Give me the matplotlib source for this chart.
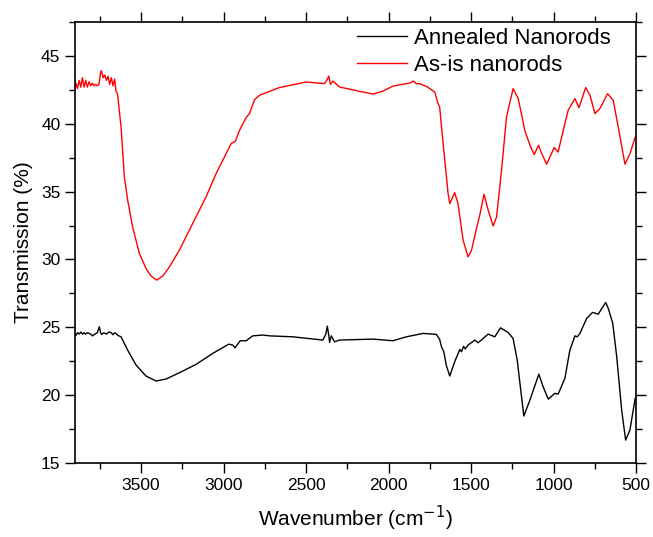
import numpy as np
import matplotlib
matplotlib.use("Agg")
import matplotlib.pyplot as plt
from matplotlib.ticker import MultipleLocator


# ===============================
#  Data
# ===============================

as_is_wavenumber = [
    3905, 3895, 3885, 3875, 3865, 3855, 3845, 3835, 3825, 3815, 3805, 3795,
    3785, 3775, 3765, 3755, 3745, 3740, 3730, 3720, 3710, 3700, 3690, 3680,
    3670, 3660, 3652, 3642, 3632, 3621, 3601, 3581, 3551, 3510, 3470, 3439,
    3405, 3369, 3328, 3268, 3187, 3106, 3045, 2984, 2954, 2928, 2903, 2863,
    2843, 2812, 2782, 2721, 2661, 2499, 2388, 2370, 2362, 2355, 2351, 2337,
    2297, 2175, 2094, 2034, 1973, 1872, 1850, 1830, 1811, 1790, 1770, 1750,
    1720, 1700, 1690, 1679, 1659, 1639, 1629, 1599, 1579, 1548, 1518, 1497,
    1467, 1447, 1421, 1396, 1366, 1345, 1315, 1285, 1245, 1214, 1174, 1143,
    1117, 1091, 1072, 1042, 1012, 996, 972, 941, 911, 870, 846, 805, 779,
    749, 719, 672, 638, 608, 567, 536, 506, 500,
]
as_is_transmission = [
    42.5, 43.0, 42.6, 43.2, 42.7, 43.4, 42.7, 43.2, 42.7, 43.1, 42.8, 43.0,
    42.8, 42.9, 42.8, 42.9, 43.8, 43.9, 43.4, 43.6, 43.2, 43.5, 42.9, 43.4,
    42.8, 43.3, 42.4, 42.2, 41.0, 39.77, 36.08, 34.37, 32.4, 30.44, 29.34, 28.77,
    28.48, 28.77, 29.45, 30.68, 32.65, 34.61, 36.33, 37.81, 38.54, 38.71, 39.52, 40.46,
    40.75, 41.78, 42.1, 42.39, 42.67, 43.08, 42.96, 43.3, 43.52, 43.1, 42.9, 43.15,
    42.71, 42.39, 42.19, 42.41, 42.78, 43.0, 43.15, 42.95, 42.96, 42.85, 42.75, 42.59,
    42.34, 41.49, 41.24, 39.77, 37.31, 34.86, 34.12, 34.93, 34.12, 31.42, 30.19, 30.68,
    32.28, 33.26, 34.81, 33.63, 32.47, 33.14, 36.58, 40.5, 42.59, 41.86, 39.52, 38.42,
    37.73, 38.42, 37.81, 37.02, 37.81, 38.25, 37.92, 39.52, 41.0, 41.86, 41.19, 42.67, 42.1,
    40.75, 41.12, 42.22, 41.73, 39.77, 37.02, 37.81, 38.99, 39.1,
]

annealed_wavenumber = [
    3905, 3895, 3885, 3875, 3865, 3854, 3845, 3835, 3825, 3815, 3805, 3794,
    3780, 3765, 3753, 3745, 3739, 3725, 3710, 3695, 3682, 3670, 3660, 3652,
    3640, 3621, 3581, 3530, 3470, 3409, 3348, 3268, 3166, 3065, 2968, 2944,
    2930, 2899, 2863, 2823, 2762, 2721, 2580, 2398, 2380, 2371, 2362, 2357,
    2347, 2327, 2297, 2094, 1973, 1892, 1791, 1710, 1690, 1679, 1665, 1650,
    1629, 1599, 1568, 1558, 1545, 1535, 1518, 1477, 1457, 1396, 1356, 1321,
    1275, 1245, 1220, 1180, 1143, 1089, 1063, 1032, 992, 972, 931, 901,
    870, 856, 840, 799, 763, 729, 684, 668, 641, 617, 587, 563, 537, 506, 500,
]
annealed_transmission = [
    24.55, 24.4, 24.6, 24.5, 24.65, 24.5, 24.6, 24.5, 24.6, 24.55, 24.5, 24.37,
    24.5, 24.6, 25.04, 24.6, 24.48, 24.6, 24.5, 24.65, 24.62, 24.45, 24.6, 24.55,
    24.4, 24.3, 23.32, 22.22, 21.41, 21.04, 21.19, 21.65, 22.27, 23.08, 23.76, 23.69,
    23.49, 24.01, 24.01, 24.37, 24.43, 24.37, 24.3, 24.06, 24.5, 25.09, 24.4, 23.89,
    24.37, 23.93, 24.06, 24.13, 24.01, 24.3, 24.55, 24.48, 24.11, 23.56, 23.2, 22.2,
    21.41, 22.46, 23.37, 23.2, 23.6, 23.4, 23.69, 24.06, 23.86, 24.5, 24.3, 24.96,
    24.62, 24.18, 22.58, 18.46, 19.64, 21.55, 20.62, 19.71, 20.13, 20.08, 21.24, 23.32,
    24.37, 24.3, 24.55, 25.66, 26.1, 25.97, 26.83, 26.39, 25.29, 22.83, 18.9, 16.69, 17.43, 19.7, 19.9,
]


# ===============================
#  Plot
# ===============================

def make_plot() -> None:
    plt.rcParams["font.family"] = ["Liberation Sans", "DejaVu Sans"]

    fig = plt.figure(figsize=(6.53, 5.37), dpi=100)
    ax = fig.add_axes([0.1149, 0.1378, 0.8591, 0.8212])

    ax.plot(annealed_wavenumber, annealed_transmission, color="black",
            linewidth=1.0, label="Annealed Nanorods")
    ax.plot(as_is_wavenumber, as_is_transmission, color="red",
            linewidth=1.0, label="As-is nanorods")

    ax.set_xlim(3900, 500)
    ax.set_ylim(15, 47.5)

    ax.xaxis.set_major_locator(MultipleLocator(500))
    ax.xaxis.set_minor_locator(MultipleLocator(250))
    ax.yaxis.set_major_locator(MultipleLocator(5))
    ax.yaxis.set_minor_locator(MultipleLocator(2.5))

    ax.tick_params(which="both", direction="out", top=True, right=True,
                   labeltop=False, labelright=False, width=1.0,
                   labelsize=12.5, colors="black")
    ax.tick_params(which="major", length=7)
    ax.tick_params(which="minor", length=4)

    for spine in ax.spines.values():
        spine.set_linewidth(1.2)

    ax.set_xlabel("Wavenumber (cm$^{-1}$)", fontsize=15, labelpad=8)
    ax.set_ylabel("Transmission (%)", fontsize=15, labelpad=6)

    ax.legend(loc="upper left", bbox_to_anchor=(0.497, 0.995), frameon=False,
              fontsize=16, handlelength=2.25, handletextpad=0.3,
              labelspacing=0.3, borderaxespad=0, borderpad=0.15)

    fig.savefig("out.png", dpi=100)
    plt.close(fig)


def main() -> None:
    make_plot()


if __name__ == "__main__":
    main()
